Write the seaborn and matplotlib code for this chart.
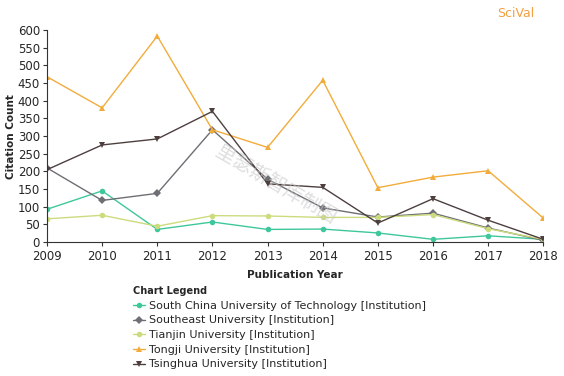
import pandas as pd
import matplotlib.pyplot as plt
import seaborn as sns

years = list(range(2009, 2019))
south_china = [93, 145, 36, 57, 36, 37, 26, 8, 18, 8]
southeast = [210, 118, 138, 318, 178, 97, 71, 82, 40, 5]
tianjin = [66, 76, 45, 75, 74, 70, 70, 78, 38, 8]
tongji = [468, 380, 583, 318, 268, 458, 154, 184, 202, 68]
tsinghua = [205, 275, 292, 370, 165, 155, 54, 123, 62, 8]

names = [
    "South China University of Technology [Institution]",
    "Southeast University [Institution]",
    "Tianjin University [Institution]",
    "Tongji University [Institution]",
    "Tsinghua University [Institution]",
]
series = [south_china, southeast, tianjin, tongji, tsinghua]
colors = ["#3fc79c", "#6e6e74", "#cbdc7e", "#f2ac3c", "#4e3f3f"]
markers = ["o", "D", "o", "^", "v"]

rows = []
for name, vals in zip(names, series):
    for y, v in zip(years, vals):
        rows.append({"year": y, "count": v, "inst": name})
df = pd.DataFrame(rows)

sns.set_style("white")
plt.rcParams['font.family'] = ['DejaVu Sans', 'Noto Sans CJK SC']

fig = plt.figure(figsize=(5.64, 3.76), dpi=100)
ax = fig.add_axes([0.0833, 0.356, 0.88, 0.564])

sns.lineplot(data=df, x="year", y="count", hue="inst", style="inst",
             palette=dict(zip(names, colors)), markers=dict(zip(names, markers)),
             dashes=False, markersize=4, linewidth=1, markeredgewidth=0,
             legend=False, ax=ax)

ax.set_xlim(2009, 2018)
ax.set_ylim(0, 600)
ax.set_xticks(years)
ax.set_yticks(range(0, 601, 50))
ax.tick_params(axis="both", labelsize=8.5, length=3, direction="out", color="#333333",
               left=True, bottom=True, pad=1)
ax.tick_params(axis="x", pad=2.5)
ax.tick_params(axis="y", pad=2)
for s in ["top", "right"]:
    ax.spines[s].set_visible(False)
for s in ["left", "bottom"]:
    ax.spines[s].set_color("#333333")
    ax.spines[s].set_linewidth(0.8)

ax.set_xlabel("Publication Year", fontsize=7.5, fontweight="bold", labelpad=5)
ax.set_ylabel("Citation Count", fontsize=7.5, fontweight="bold", labelpad=1)

# legend below
handles = [plt.Line2D([], [], color=c, marker=m, markersize=4, linewidth=1, markeredgewidth=0)
           for c, m in zip(colors, markers)]
leg = fig.legend(handles, names, loc="upper left", bbox_to_anchor=(0.236, 0.239),
                 frameon=False, fontsize=8, title="Chart Legend",
                 title_fontproperties={"weight": "bold", "size": 7},
                 handlelength=1.1, handletextpad=0.3, labelspacing=0.42,
                 borderpad=0, borderaxespad=0)
leg._legend_box.align = "left"

fig.text(0.948, 0.965, "SciVal", color="#f0a040", fontsize=9, ha="right", va="center")
fig.text(0.49, 0.51, "里瑟斯智库制图", color="#c8c8c8", alpha=0.6, fontsize=14,
         rotation=-30, ha="center", va="center", family=["Noto Sans CJK SC"])

fig.savefig("out.png", dpi=100)
